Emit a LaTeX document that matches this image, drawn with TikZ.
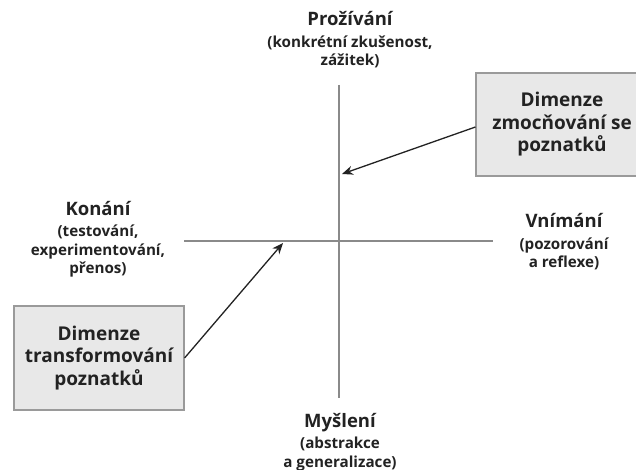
\documentclass[tikz,border=0pt]{standalone}
\usepackage{fontspec}
\setmainfont{Open Sans}
\usetikzlibrary{arrows.meta}
\definecolor{axisgray}{HTML}{8A8A8A}
\definecolor{boxfill}{HTML}{E8E8E8}
\definecolor{boxline}{HTML}{9A9A9A}
\definecolor{ink}{HTML}{222222}
\newcommand{\polehead}[1]{{\fontsize{18.5}{19}\selectfont #1}}
\tikzset{
  axis/.style={draw=axisgray, line width=1.3pt},
  pole/.style={align=center, text=ink, font=\bfseries\fontsize{15.2}{18.5}\selectfont, inner sep=0pt},
  dimbox/.style={draw=boxline, fill=boxfill, line width=1.1pt, align=center, text=ink,
    font=\bfseries\fontsize{19}{22.5}\selectfont, inner sep=0pt},
  pointer/.style={draw=ink, line width=1.3pt, -{Stealth[length=11pt,width=9pt]}}
}
\begin{document}
\begin{tikzpicture}[x=1pt,y=-1pt]
\useasboundingbox (0,0) rectangle (636,470);
\clip (0,0) rectangle (636,470);
% axes
\coordinate (vtop) at (339,85);
\coordinate (vbot) at (339,398);
\coordinate (hleft) at (184,241);
\coordinate (hright) at (493,241);
\draw[axis] (vtop) -- (vbot);
\draw[axis] (hleft) -- (hright);
% poles
\node[pole] (prozivani) at (350,40) {\polehead{Prožívání}\\[3pt](konkrétní zkušenost,\\zážitek)};
\node[pole] (konani) at (98,239) {\polehead{Konání}\\[3pt](testování,\\experimentování,\\přenos)};
\node[pole] (vnimani) at (564,242) {\polehead{Vnímání}\\[3pt](pozorování\\a reflexe)};
\node[pole] (mysleni) at (340,442) {\polehead{Myšlení}\\[3pt](abstrakce\\a generalizace)};
% dimension boxes
\node[dimbox, minimum width=172pt, minimum height=103pt] (zmoc) at (562,124.5) {Dimenze\\zmocňování se\\poznatků};
\node[dimbox, minimum width=170pt, minimum height=104pt] (transf) at (99,358) {Dimenze\\transformování\\poznatků};
% pointers onto the axes
\coordinate (zmocend) at (342,174);
\coordinate (transfend) at (283,243);
\draw[pointer] ([yshift=-2.5pt]zmoc.west) -- (zmocend);
\draw[pointer] (transf.east) -- (transfend);
\end{tikzpicture}
\end{document}
